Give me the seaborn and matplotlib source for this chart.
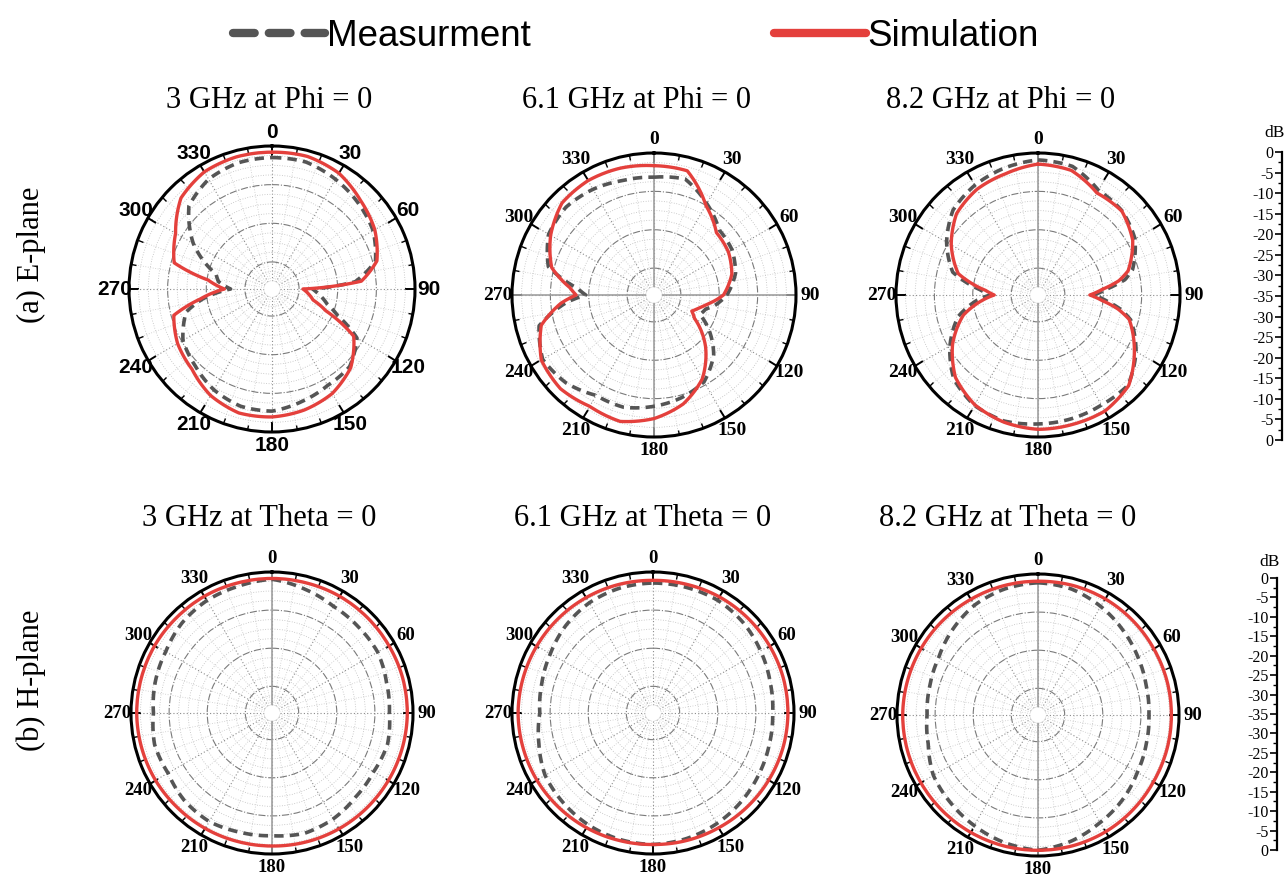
import numpy as np
import pandas as pd
import matplotlib
matplotlib.use("Agg")
import matplotlib.pyplot as plt
import seaborn as sns
from matplotlib.ticker import MultipleLocator

# ---------------- radiation pattern data (dB) ----------------
# E-plane, 3 GHz
angles_e3 = [0, 15, 30, 45, 60, 75, 85, 90, 95, 105, 112, 120, 135, 150, 165, 180,
             195, 210, 225, 240, 255, 262, 270, 278, 285, 300, 315, 330, 345]
sim_e3 = [-1.6, -1.5, -2.4, -4.6, -6.3, -8.9, -13.8, -29.0, -28.0, -26.0, -22.0, -12.6,
          -8.2, -5.8, -4.6, -3.9, -3.8, -5.2, -7.7, -8.8, -10.7, -18.2, -24.7, -20.3,
          -10.8, -8.2, -3.7, -2.0, -1.6]
meas_e3 = [-3.0, -3.0, -4.2, -5.5, -6.8, -9.3, -15.4, -26.5, -25.2, -22.3, -18.7, -11.6,
           -8.6, -8.2, -6.9, -5.4, -5.6, -6.9, -8.9, -10.4, -14.0, -19.0, -26.3, -23.0,
           -22.0, -13.5, -6.6, -4.2, -3.2]

# E-plane, 6.1 GHz
angles_e6 = [0, 15, 30, 45, 60, 75, 90, 100, 105, 113, 120, 135, 150, 165, 180,
             195, 210, 225, 240, 255, 265, 270, 275, 285, 300, 315, 330, 345]
sim_e6 = [-3.3, -3.5, -10.0, -14.0, -14.6, -16.0, -18.9, -23.0, -24.5, -26.3, -24.8,
          -18.0, -11.8, -7.6, -4.8, -2.9, -3.5, -2.5, -3.1, -6.6, -12.7, -16.7, -15.0,
          -9.4, -5.9, -3.1, -2.6, -2.8]
meas_e6 = [-6.3, -5.7, -9.5, -13.0, -13.5, -15.0, -18.0, -21.0, -23.0, -24.0, -21.0,
           -15.0, -10.9, -9.3, -8.0, -6.7, -6.8, -4.6, -3.5, -6.0, -14.0, -19.2, -17.0,
           -8.5, -5.3, -4.6, -5.2, -6.1]

# E-plane, 8.2 GHz
angles_e8 = [0, 15, 30, 45, 60, 75, 80, 85, 90, 95, 100, 105, 120, 135, 150, 165, 180,
             195, 210, 225, 240, 255, 265, 270, 275, 285, 300, 315, 330, 345]
sim_e8 = [-2.9, -3.4, -6.3, -6.1, -8.5, -12.7, -15.6, -20.2, -23.5, -20.2, -15.8, -12.4,
          -8.0, -3.6, -2.1, -2.1, -2.0, -2.7, -4.0, -6.6, -11.3, -16.9, -22.7, -25.6,
          -23.3, -15.5, -10.9, -7.0, -5.2, -4.3]
meas_e8 = [-1.8, -2.3, -5.5, -6.0, -7.8, -11.5, -14.0, -19.0, -22.5, -19.0, -15.0, -12.0,
           -7.5, -3.8, -3.9, -3.6, -3.4, -3.0, -3.8, -6.0, -10.5, -15.5, -21.0, -24.5,
           -22.0, -14.0, -9.5, -5.7, -4.0, -2.8]

# H-plane (common angle grid)
angles_h = list(range(0, 360, 15))
sim_h3 = [-1.7, -1.7, -1.6, -1.6, -1.6, -1.5, -1.5, -1.6, -1.7, -1.8, -1.9, -2.0,
          -2.1, -2.1, -2.0, -1.9, -1.7, -1.6, -1.5, -1.5, -1.5, -1.6, -1.6, -1.7]
meas_h3 = [-1.9, -3.4, -4.7, -5.0, -5.0, -5.9, -6.2, -5.6, -6.2, -5.9, -4.9, -4.3,
           -4.8, -4.6, -4.1, -4.5, -5.5, -5.1, -5.9, -5.3, -4.8, -3.6, -2.9, -2.6]
sim_h6 = [-2.2, -2.1, -1.9, -1.8, -1.7, -1.6, -1.6, -1.7, -1.9, -2.1, -2.3, -2.4,
          -2.5, -2.4, -2.2, -2.0, -1.8, -1.7, -1.6, -1.7, -1.8, -1.9, -2.0, -2.1]
meas_h6 = [-2.9, -2.9, -2.9, -3.5, -4.4, -5.2, -5.6, -5.4, -4.9, -4.2, -3.5, -2.9,
           -2.5, -2.7, -3.1, -3.7, -4.3, -6.0, -7.3, -6.8, -5.9, -4.6, -3.6, -3.1]
sim_h8 = [-1.9, -1.8, -1.8, -1.9, -2.0, -2.0, -2.0, -2.0, -2.0, -1.8, -1.6, -1.5,
          -1.5, -1.5, -1.5, -1.5, -1.5, -1.5, -1.5, -1.6, -1.7, -1.8, -1.9, -1.9]
meas_h8 = [-2.3, -2.8, -4.1, -5.5, -6.7, -7.6, -7.9, -7.6, -6.9, -5.6, -4.4, -2.8,
           -1.5, -2.4, -3.5, -4.5, -5.3, -7.2, -7.9, -7.6, -6.9, -5.3, -3.7, -2.8]

titles = ["3 GHz at Phi = 0", "6.1 GHz at Phi = 0", "8.2 GHz at Phi = 0",
          "3 GHz at Theta = 0", "6.1 GHz at Theta = 0", "8.2 GHz at Theta = 0"]
row_labels = ["(a) E-plane", "(b) H-plane"]
series_labels = ["Measurment", "Simulation"]
angle_ticks = list(range(0, 360, 30))
db_ticks = list(range(0, 71, 5))

# ---------------- styling ----------------
sns.set_theme(style="white")
plt.rcParams["font.family"] = ["Liberation Serif", "DejaVu Serif"]
plt.rcParams["text.color"] = "black"
plt.rcParams["axes.labelcolor"] = "black"
plt.rcParams["xtick.color"] = "black"
plt.rcParams["ytick.color"] = "black"

W, H = 1288, 880
fig = plt.figure(figsize=(W / 100, H / 100), dpi=100)
fig.patch.set_facecolor("white")

RED = "#E4403C"
GREY = "#555555"
R_MIN, R_MAX, R_ORIGIN = -35, 0, -37


def px_rect(cx, cy, r):
    return [(cx - r) / W, 1 - (cy + r) / H, 2 * r / W, 2 * r / H]


panels = [
    dict(geom=(272, 289, 143), title_xy=(269, 100), theta=angles_e3, sim=sim_e3, meas=meas_e3,
         font="Liberation Sans", fsize=15, cross=[]),
    dict(geom=(654, 295, 142), title_xy=(637, 100), theta=angles_e6, sim=sim_e6, meas=meas_e6,
         font="Liberation Serif", fsize=14, cross=[0, 90, 180, 270]),
    dict(geom=(1038, 295, 142), title_xy=(1001, 100), theta=angles_e8, sim=sim_e8, meas=meas_e8,
         font="Liberation Serif", fsize=14, cross=[0, 180]),
    dict(geom=(272, 713, 141), title_xy=(259, 518), theta=angles_h, sim=sim_h3, meas=meas_h3,
         font="Liberation Serif", fsize=13.5, cross=[0, 180]),
    dict(geom=(653, 713, 141), title_xy=(643, 518), theta=angles_h, sim=sim_h6, meas=meas_h6,
         font="Liberation Serif", fsize=13.5, cross=[]),
    dict(geom=(1038, 715, 141), title_xy=(1008, 518), theta=angles_h, sim=sim_h8, meas=meas_h8,
         font="Liberation Serif", fsize=13.5, cross=[0, 180]),
]

handles = None
for title, p in zip(titles, panels):
    ax = fig.add_axes(px_rect(*p["geom"]), projection="polar")
    ax.set_theta_zero_location("N")
    ax.set_theta_direction(-1)

    th = np.deg2rad(np.append(p["theta"], 360))
    df = pd.DataFrame({
        "theta": th,
        "meas": np.append(p["meas"], p["meas"][0]),
        "sim": np.append(p["sim"], p["sim"][0]),
    })

    for a in p["cross"]:
        ax.axvline(np.deg2rad(a), color="#a0a0a0", lw=1.2, zorder=1)

    sns.lineplot(data=df, x="theta", y="meas", ax=ax, sort=False, errorbar=None,
                 color=GREY, lw=2.6, linestyle=(0, (2.6, 1.7)), zorder=3)
    sns.lineplot(data=df, x="theta", y="sim", ax=ax, sort=False, errorbar=None,
                 color=RED, lw=2.4, zorder=4)
    pattern_lines = ax.lines[-2:]
    # draw each segment as a polar arc rather than a straight chord
    for ln in pattern_lines:
        ln.get_path()._interpolation_steps = 40
    if handles is None:
        handles = list(pattern_lines)

    ax.set_xlabel("")
    ax.set_ylabel("")
    ax.set_ylim(R_MIN, R_MAX)
    ax.set_rorigin(R_ORIGIN)

    ax.set_xticks(np.deg2rad(angle_ticks))
    ax.set_xticklabels([str(a) for a in angle_ticks], fontfamily=p["font"],
                       fontweight="bold", fontsize=p["fsize"], color="black")
    ax.set_xticks(np.deg2rad(np.arange(0, 360, 10)), minor=True)
    ax.set_yticks([-30, -20, -10])
    ax.set_yticks(np.arange(-32.5, 0, 2.5), minor=True)
    ax.set_yticklabels([])

    ax.grid(True, which="major", axis="x", color="#8a8a8a", linestyle=(0, (1, 2)), lw=0.8)
    ax.grid(True, which="minor", axis="x", color="#c8c8c8", linestyle=(0, (1, 2)), lw=0.6)
    ax.grid(True, which="major", axis="y", color="#7a7a7a", linestyle="-.", lw=0.8)
    ax.grid(True, which="minor", axis="y", color="#bdbdbd", linestyle=(0, (1, 2)), lw=0.6)

    # rim ticks only on the outer circle
    ax.tick_params(axis="x", which="both", bottom=False, top=True)
    ax.tick_params(axis="x", which="major", direction="in", length=7, width=1.4,
                   color="black", pad=3, labelcolor="black")
    ax.tick_params(axis="x", which="minor", direction="in", length=4, width=1.0,
                   color="black")
    ax.tick_params(axis="y", which="both", length=0)
    ax.spines["polar"].set_linewidth(2.2)
    ax.spines["polar"].set_color("black")
    # the small centre hole carries no outline
    ax.spines["inner"].set_linewidth(0)
    ax.spines["inner"].set_edgecolor("none")
    ax.set_facecolor("white")

    fig.text(p["title_xy"][0] / W, 1 - p["title_xy"][1] / H, title,
             ha="center", va="center", fontsize=22, color="black")

# row labels
for lbl, y in zip(row_labels, [255, 680]):
    fig.text(31 / W, 1 - y / H, lbl, rotation=90, ha="center", va="center",
             fontsize=22, color="black")

# dB scales on the right
for x, top, bottom, label_y in [(1282, 152, 440, 133), (1277, 578, 850, 562)]:
    sax = fig.add_axes([x / W, 1 - bottom / H, 0.5 / W, (bottom - top) / H])
    sax.patch.set_visible(False)
    sax.set_ylim(70, 0)
    sax.set_xticks([])
    sax.set_yticks(db_ticks)
    sax.set_yticklabels([str(-min(t, 70 - t)) for t in db_ticks])
    sax.yaxis.set_minor_locator(MultipleLocator(2.5))
    for s in ["top", "right", "bottom"]:
        sax.spines[s].set_visible(False)
    sax.spines["left"].set_linewidth(1.6)
    sax.spines["left"].set_color("black")
    sax.tick_params(axis="y", which="major", direction="out", length=5, width=1.2,
                    labelsize=11.5, pad=1, left=True, colors="black")
    sax.tick_params(axis="y", which="minor", direction="out", length=3, width=1.0,
                    left=True, colors="black")
    fig.text((x - 7) / W, 1 - label_y / H, "dB", ha="center", va="center",
             fontsize=12.5, color="black")

# shared legend across the top
leg = fig.legend(handles=handles, labels=series_labels, loc="center",
                 bbox_to_anchor=(636 / W, 1 - 36 / H), ncol=2, frameon=False,
                 handlelength=2.5, columnspacing=6.6, handletextpad=0.05,
                 prop={"family": "Liberation Sans", "size": 26.5})
for txt in leg.get_texts():
    txt.set_color("black")
for line in leg.get_lines():
    line.set_linewidth(6)
    line.set_dash_capstyle("round")
    line.set_solid_capstyle("round")

fig.savefig("out.png", dpi=100, facecolor="white")
